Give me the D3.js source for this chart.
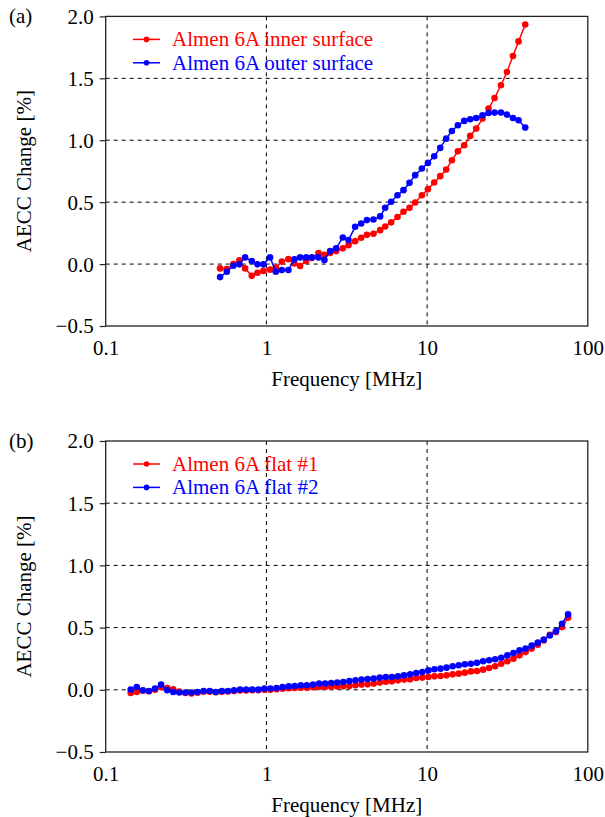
<!DOCTYPE html>
<html><head><meta charset="utf-8">
<script src="https://cdn.jsdelivr.net/npm/d3@7"></script>
<style>
body{margin:0;background:#fff}
svg text{font-family:"Liberation Serif","Times New Roman",serif !important;}
</style>
</head><body>
<svg id="c" width="605" height="817" font-family="Liberation Serif"></svg>
<script>
// ---------- DATA ----------
const freqA = [0.515,0.567,0.623,0.679,0.737,0.811,0.879,0.958,1.054,1.144,1.247,1.371,1.494,1.621,1.767,1.918,2.108,2.297,2.493,2.716,2.99,3.241,3.567,3.888,4.22,4.638,5.105,5.484,5.976,6.542,7.131,7.771,8.432,9.282,10.12,11.07,12.07,13.15,14.27,15.55,17.02,18.55,20.22,22.13,24.12,26.29,28.81,31.4,34.21,37.08,40.81];
const innerA = [-0.035,-0.04,0.0,0.03,-0.035,-0.095,-0.07,-0.055,-0.045,-0.03,0.02,0.04,0.005,-0.015,0.025,0.05,0.09,0.075,0.09,0.105,0.127,0.153,0.185,0.213,0.236,0.245,0.274,0.304,0.337,0.38,0.422,0.454,0.497,0.556,0.605,0.659,0.71,0.763,0.839,0.911,0.96,1.035,1.094,1.175,1.256,1.341,1.444,1.551,1.68,1.798,1.935];
const outerA = [-0.105,-0.062,-0.014,-0.002,0.054,0.024,-0.002,-0.002,0.054,-0.062,-0.048,-0.048,0.038,0.054,0.054,0.054,0.054,0.032,0.105,0.127,0.215,0.194,0.301,0.328,0.355,0.36,0.385,0.454,0.503,0.556,0.597,0.656,0.718,0.772,0.817,0.871,0.938,1.013,1.075,1.121,1.156,1.169,1.18,1.202,1.22,1.223,1.223,1.207,1.18,1.161,1.102];

const freqB = [0.1431,0.1561,0.1703,0.1858,0.2027,0.2212,0.2413,0.2633,0.2872,0.3133,0.3418,0.3729,0.4068,0.4438,0.4842,0.5283,0.5763,0.6288,0.686,0.7484,0.8165,0.8907,0.9712,1.0595,1.156,1.261,1.376,1.501,1.637,1.786,1.949,2.126,2.319,2.53,2.76,3.011,3.285,3.584,3.91,4.265,4.653,5.076,5.538,6.041,6.591,7.19,7.844,8.557,9.335,10.18,11.11,12.12,13.22,14.43,15.74,17.17,18.73,20.43,22.29,24.32,26.53,28.94,31.57,34.45,37.58,41.0,44.73,48.79,53.23,58.07,63.35,69.11,75.4];
const flat1B = [-0.025,-0.018,-0.008,-0.012,0.0,0.02,0.014,0.004,-0.015,-0.026,-0.03,-0.024,-0.016,-0.016,-0.02,-0.016,-0.014,-0.01,-0.006,-0.006,-0.004,-0.004,0.0,0.0,0.004,0.008,0.012,0.014,0.016,0.016,0.02,0.022,0.022,0.024,0.026,0.028,0.03,0.036,0.042,0.044,0.05,0.058,0.065,0.068,0.076,0.082,0.084,0.095,0.098,0.103,0.108,0.111,0.116,0.124,0.13,0.138,0.148,0.151,0.162,0.175,0.189,0.21,0.229,0.25,0.277,0.303,0.331,0.363,0.397,0.443,0.464,0.504,0.58];
const flat2B = [0.002,0.022,-0.004,-0.01,0.01,0.042,-0.004,-0.018,-0.022,-0.022,-0.022,-0.018,-0.01,-0.01,-0.018,-0.01,-0.01,-0.004,0.002,0.002,0.002,0.002,0.01,0.01,0.014,0.022,0.028,0.03,0.036,0.036,0.042,0.05,0.05,0.055,0.058,0.063,0.07,0.076,0.082,0.087,0.09,0.098,0.103,0.103,0.108,0.116,0.124,0.135,0.143,0.156,0.165,0.17,0.178,0.189,0.197,0.205,0.21,0.218,0.229,0.237,0.245,0.258,0.277,0.295,0.317,0.331,0.355,0.379,0.403,0.437,0.47,0.531,0.606];

const xTicks = [0.1,1,10,100];
const xTickLabels = ["0.1","1","10","100"];
const yTicks = [-0.5,0,0.5,1,1.5,2];
const yTickLabels = ["\u22120.5","0.0","0.5","1.0","1.5","2.0"];
const xTitle = "Frequency [MHz]";
const yTitle = "AECC Change [%]";
const colors = ["#ff0000","#0000ff"];

const panels = [
  {tag:"(a)", top:16.4, bottom:326, freq:freqA,
   series:[{name:"Almen 6A inner surface", vals:innerA},{name:"Almen 6A outer surface", vals:outerA}]},
  {tag:"(b)", top:441, bottom:752, freq:freqB,
   series:[{name:"Almen 6A flat #1", vals:flat1B},{name:"Almen 6A flat #2", vals:flat2B}]}
];

// ---------- DRAW ----------
const FONT = '"Liberation Serif","Times New Roman",serif';
const svg = d3.select("#c");
const L = 105.7, R = 587.8;
const FS = 21;

panels.forEach(p => {
  const x = d3.scaleLog().domain([0.1,100]).range([L,R]);
  const y = d3.scaleLinear().domain([-0.5,2]).range([p.bottom,p.top]);
  const g = svg.append("g");

  // gridlines
  g.selectAll(".hg").data(yTicks.filter(v=>v>-0.5&&v<2)).join("line")
    .attr("x1",L).attr("x2",R).attr("y1",d=>y(d)).attr("y2",d=>y(d))
    .attr("stroke","#000").attr("stroke-width",1).attr("stroke-dasharray","4,4");
  g.selectAll(".vg").data(xTicks.filter(v=>v>0.1&&v<100)).join("line")
    .attr("x1",d=>x(d)).attr("x2",d=>x(d)).attr("y1",p.top).attr("y2",p.bottom)
    .attr("stroke","#000").attr("stroke-width",1).attr("stroke-dasharray","4,4");

  // axes
  const ya = d3.axisLeft(y).tickValues(yTicks).tickFormat((d,i)=>yTickLabels[i]).tickSize(6).tickSizeOuter(0);
  const yg = g.append("g").attr("transform",`translate(${L},0)`).call(ya)
    .attr("font-family",FONT).attr("font-size",FS);
  yg.select(".domain").remove();
  yg.selectAll("line").attr("stroke","#222").attr("stroke-width",1.2);
  yg.selectAll("text").attr("x",-12).attr("dy","0.33em").style("font-family",FONT).style("font-size",FS+"px");

  const xa = d3.axisBottom(x).tickValues(xTicks).tickFormat((d,i)=>xTickLabels[i]).tickSize(0).tickSizeOuter(0);
  const xg = g.append("g").attr("transform",`translate(0,${p.bottom})`).call(xa)
    .attr("font-family",FONT).attr("font-size",FS);
  xg.select(".domain").remove();
  xg.selectAll("text").attr("y",29).attr("dy",0).style("font-family",FONT).style("font-size",FS+"px");

  // frame
  g.append("rect").attr("x",L).attr("y",p.top).attr("width",R-L).attr("height",p.bottom-p.top)
    .attr("fill","none").attr("stroke","#222").attr("stroke-width",1.3);

  // titles
  g.append("text").attr("x",(L+R)/2).attr("y",p.bottom+60).attr("text-anchor","middle")
    .style("font-family",FONT).style("font-size",FS+"px").text(xTitle);
  g.append("text").attr("transform",`translate(31,${(p.top+p.bottom)/2}) rotate(-90)`)
    .attr("text-anchor","middle").style("font-family",FONT).style("font-size",FS+"px").text(yTitle);
  g.append("text").attr("x",9).attr("y",p.top+7).style("font-family",FONT).style("font-size",FS+"px").text(p.tag);

  // series
  const line = d3.line().x(d=>x(d[0])).y(d=>y(d[1]));
  p.series.forEach((s,k) => {
    const pts = p.freq.map((f,i)=>[f,s.vals[i]]);
    g.append("path").datum(pts).attr("d",line).attr("fill","none")
      .attr("stroke",colors[k]).attr("stroke-width",1.5);
    g.selectAll(null).data(pts).join("circle")
      .attr("cx",d=>x(d[0])).attr("cy",d=>y(d[1])).attr("r",3.3).attr("fill",colors[k]);
  });

  // legend
  p.series.forEach((s,k) => {
    const ly = p.top + 23 + k*23.4;
    g.append("line").attr("x1",133).attr("x2",160).attr("y1",ly).attr("y2",ly)
      .attr("stroke",colors[k]).attr("stroke-width",1.5);
    g.append("circle").attr("cx",146.5).attr("cy",ly).attr("r",2.8).attr("fill",colors[k]);
    g.append("text").attr("x",172).attr("y",ly).attr("dy","0.33em")
      .style("font-family",FONT).style("font-size",FS+"px")
      .style("fill",colors[k]).text(s.name);
  });
});
</script>
</body></html>
